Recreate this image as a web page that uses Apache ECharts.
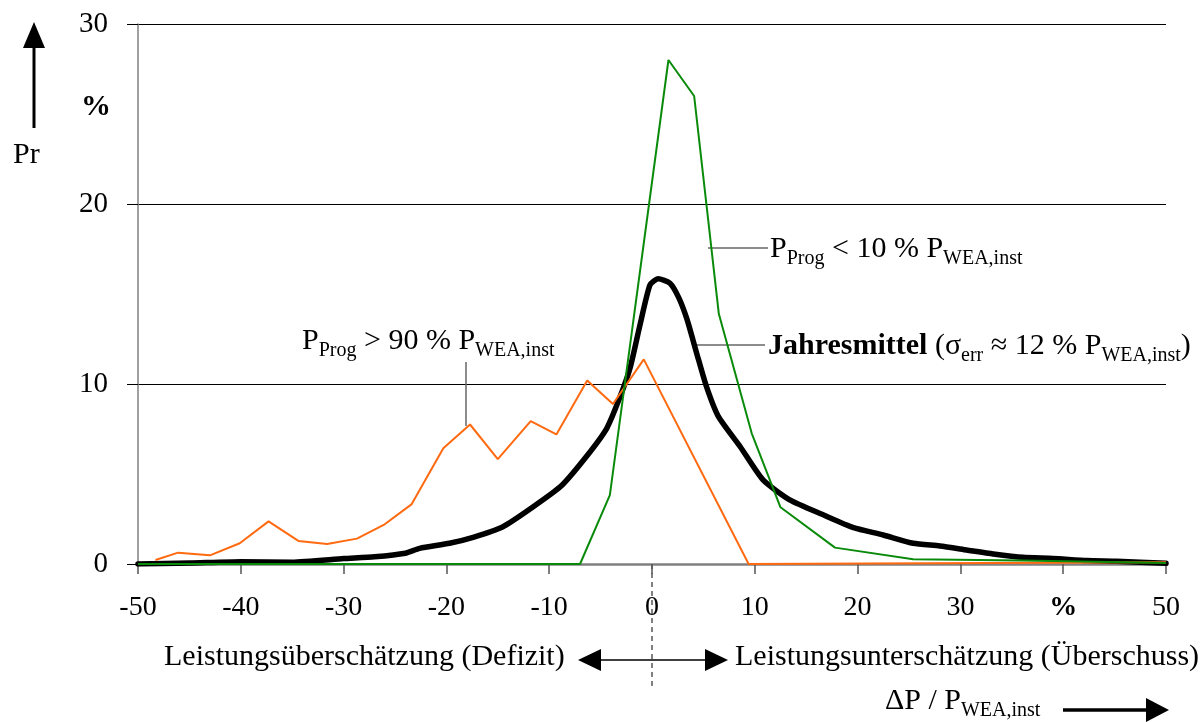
<!DOCTYPE html>
<html>
<head>
<meta charset="UTF-8">
<title>Prognosefehler</title>
<style>
  * { margin: 0; padding: 0; }
  body { width: 1200px; height: 722px; background: #fff; overflow: hidden; }
  #chart { width: 1200px; height: 722px; }
</style>
<script src="https://cdn.jsdelivr.net/npm/echarts@6/dist/echarts.min.js"></script>
</head>
<body>
<div id="chart"></div>
<script>
// x-Achse: ΔP / P_WEA,inst in %, y-Achse: Häufigkeit in %
const xTicks = [-50, -40, -30, -20, -10, 0, 10, 20, 30, 40, 50]
const yTicks = [0, 10, 20, 30]

// Jahresmittel
const meanX = [-50, -45, -40, -35, -30, -27, -24, -22.6, -19.7, -17.4, -14.5, -11.9, -8.9, -6.4, -4.4, -3.1, -2.1, -1.2, -0.2, 0.6, 1.75, 2.6, 3.4, 4.35, 5.3, 6.45, 8.6, 10.8, 13.4, 16.7, 19.6, 22.5, 25.4, 28, 30.6, 33.2, 36.1, 39, 42.3, 45.2, 50]
const meanY = [0, 0.05, 0.13, 0.1, 0.3, 0.4, 0.6, 0.87, 1.15, 1.48, 2.07, 3.04, 4.3, 5.96, 7.54, 9.3, 10.96, 13.2, 15.5, 15.85, 15.6, 14.8, 13.6, 11.7, 9.85, 8.2, 6.5, 4.67, 3.56, 2.72, 2.02, 1.61, 1.15, 1.0, 0.78, 0.56, 0.37, 0.31, 0.19, 0.15, 0.04]

// P_Prog > 90 % P_WEA,inst
const highX = [-48.3, -46.1, -43.0, -40.1, -37.3, -34.4, -31.6, -28.7, -26.1, -23.4, -20.3, -17.7, -15.0, -11.8, -9.3, -6.3, -3.8, -0.8, 9.4, 50]
const highY = [0.22, 0.63, 0.48, 1.15, 2.37, 1.28, 1.11, 1.41, 2.17, 3.31, 6.43, 7.75, 5.83, 7.94, 7.2, 10.2, 8.89, 11.37, 0, 0.1]

// P_Prog < 10 % P_WEA,inst
const lowX = [-50, -7.0, -4.1, 1.6, 4.1, 6.5, 9.7, 12.5, 17.8, 25.4, 36, 50]
const lowY = [0, 0, 3.83, 28.0, 26.0, 13.9, 7.26, 3.15, 0.91, 0.26, 0.2, 0.05]

const pairs = (xs, ys) => xs.map((x, i) => [x, ys[i]])

const FONT = '"Liberation Serif", "Times New Roman", serif'
const ORANGE = '#ff6a10'
const GREEN = '#0a8a0a'

// Rich-Text mit tiefgestellten Indizes
const richBase = (color) => ({
  m: { fontFamily: FONT, fontSize: 30, color, padding: [0, 0, 5, 0], verticalAlign: 'bottom' },
  s: { fontFamily: FONT, fontSize: 20, color, verticalAlign: 'bottom' },
  b: { fontFamily: FONT, fontSize: 30, color, fontWeight: 'bold', padding: [0, 0, 5, 0], verticalAlign: 'bottom' }
})

const chart = echarts.init(document.getElementById('chart'))

const option = {
  animation: false,
  backgroundColor: '#fff',
  grid: { left: 138, right: 34, top: 24, bottom: 158 },
  xAxis: {
    type: 'value',
    min: -50,
    max: 50,
    interval: 10,
    axisLine: { onZero: false, lineStyle: { color: '#808080', width: 2.5 } },
    axisTick: { length: 10, lineStyle: { color: '#555', width: 1.5 } },
    splitLine: { show: false },
    axisLabel: {
      margin: 30,
      fontFamily: FONT,
      fontSize: 28,
      color: '#000',
      formatter: v => (v === 40 ? '{p|%}' : String(v)),
      rich: { p: { fontFamily: FONT, fontSize: 28, fontWeight: 'bold', color: '#000' } }
    }
  },
  yAxis: {
    type: 'value',
    min: 0,
    max: 30,
    interval: 10,
    axisLine: { show: true, onZero: false, lineStyle: { color: '#808080', width: 1.5 } },
    axisTick: { show: true, length: 11, lineStyle: { color: '#000', width: 1 } },
    splitLine: { show: true, lineStyle: { color: '#000', width: 1 } },
    axisLabel: {
      margin: 30,
      fontFamily: FONT,
      fontSize: 29,
      color: '#000',
      formatter: v => (yTicks.includes(v) ? String(v) : '')
    }
  },
  series: [
    {
      name: 'Jahresmittel',
      type: 'line',
      data: pairs(meanX, meanY),
      showSymbol: false,
      smooth: 0.2,
      lineStyle: { color: '#000', width: 5.5, join: 'round', cap: 'round' },
      z: 2
    },
    {
      name: 'PProg > 90 %',
      type: 'line',
      data: pairs(highX, highY),
      showSymbol: false,
      lineStyle: { color: ORANGE, width: 2 },
      z: 3
    },
    {
      name: 'PProg < 10 %',
      type: 'line',
      data: pairs(lowX, lowY),
      showSymbol: false,
      lineStyle: { color: GREEN, width: 2 },
      z: 4
    }
  ]
}

chart.setOption(option)

// Beschriftungen, Pfeile, Hinweislinien
const px = (x, y) => chart.convertToPixel({ gridIndex: 0 }, [x, y])
const p0 = px(0, 0)
const gray = { stroke: '#666', lineWidth: 1.5 }

const graphics = [
  // y-Achsen-Pfeil und Beschriftung
  { type: 'line', shape: { x1: 34, y1: 128, x2: 34, y2: 46 }, style: { stroke: '#000', lineWidth: 3 } },
  { type: 'polygon', shape: { points: [[34, 22], [23, 48], [45, 48]] }, style: { fill: '#000' } },
  { type: 'text', left: 13, top: 140, style: { text: 'Pr', font: '30px ' + FONT, fill: '#000' } },
  { type: 'text', left: 81, top: 92, style: { text: '%', font: 'bold 30px ' + FONT, fill: '#000' } },

  // gestrichelte Null-Linie unter der Achse
  { type: 'line', shape: { x1: p0[0], y1: p0[1], x2: p0[0], y2: 690 }, style: { stroke: '#000', lineWidth: 1, lineDash: [5, 4] } },

  // Unterschätzung / Überschätzung
  { type: 'text', left: 164, top: 642, style: { text: 'Leistungsüberschätzung (Defizit)', font: '30px ' + FONT, fill: '#000' } },
  { type: 'text', left: 735, top: 642, style: { text: 'Leistungsunterschätzung (Überschuss)', font: '30px ' + FONT, fill: '#000' } },
  { type: 'line', shape: { x1: 598, y1: 660, x2: 708, y2: 660 }, style: { stroke: '#000', lineWidth: 1.5 } },
  { type: 'polygon', shape: { points: [[578, 660], [601, 649], [601, 671]] }, style: { fill: '#000' } },
  { type: 'polygon', shape: { points: [[728, 660], [705, 649], [705, 671]] }, style: { fill: '#000' } },

  // x-Achsen-Titel mit Pfeil
  {
    type: 'text', left: 885, top: 686,
    style: { rich: richBase('#000'), text: '{m|ΔP / P}{s|WEA,inst}' }
  },
  { type: 'line', shape: { x1: 1063, y1: 710, x2: 1150, y2: 710 }, style: { stroke: '#000', lineWidth: 3.5 } },
  { type: 'polygon', shape: { points: [[1169, 710], [1146, 698], [1146, 722]] }, style: { fill: '#000' } },

  // Hinweislinien und Kurvenbeschriftungen
  { type: 'line', shape: { x1: 708, y1: 248, x2: 768, y2: 248 }, style: gray },
  {
    type: 'text', left: 770, top: 234,
    style: { rich: richBase(GREEN), text: '{m|P}{s|Prog}{m| < 10 % P}{s|WEA,inst}' }
  },
  { type: 'line', shape: { x1: 695, y1: 345, x2: 765, y2: 345 }, style: gray },
  {
    type: 'text', left: 768, top: 331,
    style: { rich: richBase('#000'), text: '{b|Jahresmittel}{m| (σ}{s|err}{m| ≈ 12 % P}{s|WEA,inst}{m|)}' }
  },
  { type: 'line', shape: { x1: 466, y1: 362, x2: 466, y2: 426 }, style: gray },
  {
    type: 'text', left: 302, top: 326,
    style: { rich: richBase(ORANGE), text: '{m|P}{s|Prog}{m| > 90 % P}{s|WEA,inst}' }
  }
]

chart.setOption({ graphic: graphics })
</script>
</body>
</html>
